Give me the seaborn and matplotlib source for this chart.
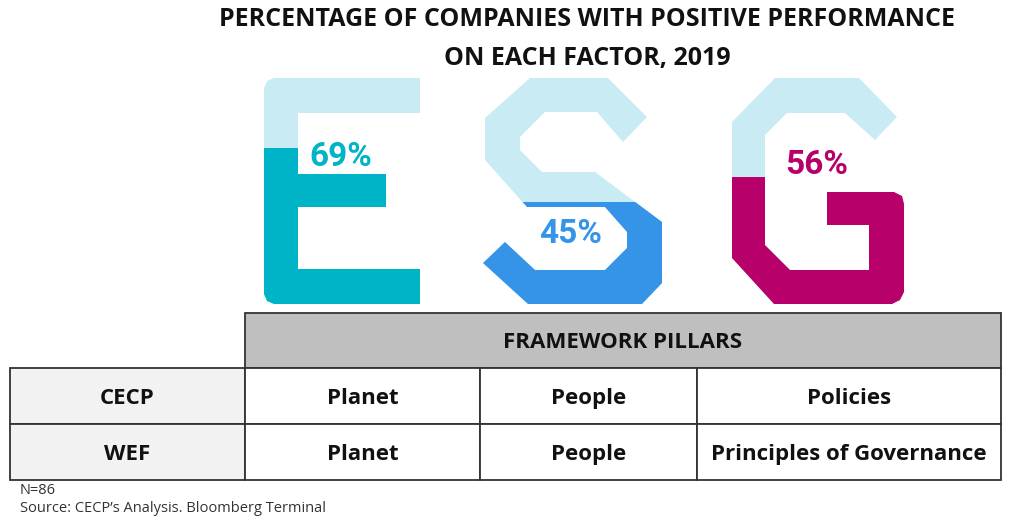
import matplotlib
matplotlib.use('Agg')
import matplotlib.pyplot as plt
from matplotlib.patches import Polygon, Rectangle
import seaborn as sns

# data
pillars = ['E', 'S', 'G']
values = [69, 45, 56]
row_labels = ['CECP', 'WEF']
cecp_pillars = ['Planet', 'People', 'Policies']
wef_pillars = ['Planet', 'People', 'Principles of Governance']
header = 'FRAMEWORK PILLARS'

colors = ['#00B4C7', '#3594E8', '#B8006A']
light = '#C9ECF4'

sns.set_style('white')
plt.rcParams['font.family'] = ['Open Sans', 'DejaVu Sans']

fig = plt.figure(figsize=(10.24, 5.2), dpi=100)
ax = fig.add_axes([0, 0, 1, 1])
ax.set_xlim(0, 1024)
ax.set_ylim(520, 0)
ax.axis('off')

# title
ax.text(587, 19, 'PERCENTAGE OF COMPANIES WITH POSITIVE PERFORMANCE',
        ha='center', va='center', fontsize=18, fontweight='bold', color='#111111')
ax.text(587, 58, 'ON EACH FACTOR, 2019',
        ha='center', va='center', fontsize=18, fontweight='bold', color='#111111')

# letter outlines (pixel coords)
letter_E = [(274, 78), (420, 78), (420, 113), (298, 113), (298, 174), (386, 174),
            (386, 207), (298, 207), (298, 269), (420, 269), (420, 304), (274, 304),
            (267, 301), (264, 294), (264, 88), (267, 81)]
letter_S = [(530, 78), (608, 78), (647, 117), (623, 142), (597, 112), (545, 112),
            (520, 137), (520, 150), (542, 172), (595, 172), (662, 222), (662, 283),
            (642, 304), (528, 304), (483, 263), (505, 242), (535, 270), (605, 270),
            (627, 248), (627, 232), (605, 207), (527, 207), (485, 160), (485, 118)]
letter_G = [(775, 78), (859, 78), (897, 117), (875, 140), (845, 113), (787, 113),
            (765, 135), (765, 245), (790, 270), (869, 270), (869, 225), (827, 225),
            (827, 192), (894, 192), (902, 196), (904, 204), (904, 292), (900, 300),
            (892, 304), (774, 304), (732, 258), (732, 122)]
letters = [letter_E, letter_S, letter_G]

for pts in letters:
    ax.add_patch(Polygon(pts, closed=True, facecolor=light, edgecolor='none'))

# fill level bars, clipped to the letter shapes
ax_bar = fig.add_axes([230 / 1024, (520 - 304) / 520, 700 / 1024, 226 / 520])
sns.barplot(x=pillars, y=values, hue=pillars, palette=colors, legend=False,
            width=0.95, saturation=1, ax=ax_bar)
ax_bar.set_ylim(0, 100)
ax_bar.set_xlim(-0.5, 2.5)
ax_bar.axis('off')
ax_bar.patch.set_alpha(0)
for bar, pts in zip(ax_bar.patches, letters):
    clip = Polygon(pts, closed=True, transform=ax.transData)
    bar.set_clip_path(clip)
    bar.set_edgecolor('none')

label_xy = [(341, 157), (571, 234), (817, 165)]
for (lx, ly), v, c in zip(label_xy, values, colors):
    ax_bar.text(lx, ly, f'{v}%', transform=ax.transData, ha='center', va='center',
                fontsize=24, fontweight='bold', color=c,
                family=['Roboto', 'DejaVu Sans'])

# table
cols = [10, 245, 480, 697, 1001]
rows = [313, 368, 424, 480]
edge = '#333333'
ax.add_patch(Rectangle((cols[1], rows[0]), cols[-1] - cols[1], rows[1] - rows[0],
                       facecolor='#BFBFBF', edgecolor=edge, lw=1.3))
ax.text((cols[1] + cols[-1]) / 2, (rows[0] + rows[1]) / 2 + 8, header,
        ha='center', va='baseline', fontsize=16, fontweight='bold', color='#111111')
for r, (lab, cells) in enumerate(zip(row_labels, [cecp_pillars, wef_pillars])):
    y0, y1 = rows[r + 1], rows[r + 2]
    for c, txt in enumerate([lab] + cells):
        x0, x1 = cols[c], cols[c + 1]
        ax.add_patch(Rectangle((x0, y0), x1 - x0, y1 - y0,
                               facecolor='#F2F2F2' if c == 0 else 'white',
                               edgecolor=edge, lw=1.3))
        ax.text((x0 + x1) / 2, (y0 + y1) / 2 + 8, txt, ha='center', va='baseline',
                fontsize=16, fontweight='bold', color='#111111')

ax.text(20, 491, 'N=86', ha='left', va='center', fontsize=10.5, color='#333333')
ax.text(20, 508, 'Source: CECP\u2019s Analysis. Bloomberg Terminal',
        ha='left', va='center', fontsize=10.5, color='#333333')

fig.savefig('out.png', dpi=100)
